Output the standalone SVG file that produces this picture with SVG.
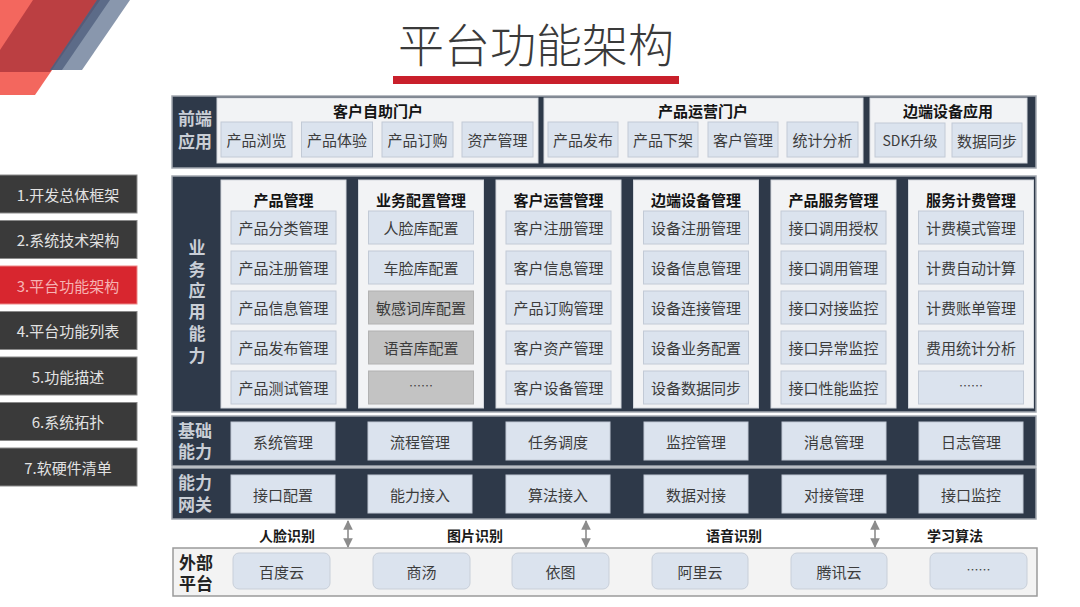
<svg xmlns="http://www.w3.org/2000/svg" width="1080" height="607" viewBox="0 0 1080 607">
<defs>
<style>
.t{font-family:"Noto Sans CJK SC","Liberation Sans",sans-serif;font-size:15px;fill:#3c3c3c;text-anchor:middle;dominant-baseline:central}
.h{font-weight:bold;fill:#141414;font-size:15px}
.lab{font-family:"Liberation Sans","Noto Sans CJK SC",sans-serif;font-weight:bold;font-size:17px;fill:#c9ced6}
.lab2{font-family:"Liberation Sans","Noto Sans CJK SC",sans-serif;font-weight:bold;font-size:17px;fill:#222}
.dark{fill:#2e3949;stroke:#a3a8b0;stroke-width:1.5}
.panel{fill:#f2f3f5;stroke:#d4d8de;stroke-width:1}
.item{fill:#dbe3ee;stroke:#c2cad6;stroke-width:1}
.gray{fill:#c3c3c3;stroke:#b2b2b2;stroke-width:1}
.ext{fill:#dbe3ee;stroke:#c8cfd9;stroke-width:1}
.mbtn{fill:#3a3a3a;stroke:#8a8a8a;stroke-width:1}
.mt{font-family:"Noto Sans CJK SC","Liberation Sans",sans-serif;font-size:15px;fill:#e2e2e2;text-anchor:middle;dominant-baseline:central}
.bl{font-weight:bold;font-size:14px;fill:#1a1a1a}
.arr{stroke:#8c8c8c;stroke-width:1.6;fill:none;marker-start:url(#ah);marker-end:url(#ah)}
</style>
<marker id="ah" viewBox="0 0 10 10" refX="9" refY="5" markerWidth="6" markerHeight="6" orient="auto-start-reverse">
<path d="M0,0 L10,5 L0,10 z" fill="#8c8c8c"/>
</marker>
</defs>
<rect width="1080" height="607" fill="#ffffff"/>
<!-- decoration -->
<g id="decor">
<polygon points="0,0 100,0 35,95 0,95" fill="#f2564c" opacity="0.9"/>
<polygon points="33,0 100,0 50,72 0,72 0,50" fill="#a8323a" opacity="0.75"/>
<polygon points="97,0 130,0 82,70 50,70" fill="#6c7d99" opacity="0.8"/>
<polygon points="97,0 110,0 62,70 50,70" fill="#3d4f70" opacity="0.6"/>
</g>
<!-- title -->
<g id="title">
<text x="536" y="42" class="t" style="font-size:46px;font-weight:300;fill:#3a3a3a">平台功能架构</text>
<rect x="393" y="76" width="286" height="8" fill="#c9202b"/>
</g>
<!-- menu -->
<g id="menu">
<g id="m1"><rect class="mbtn" x="-1" y="175" width="138" height="38"/><text class="mt" x="68" y="194">1.开发总体框架</text></g>
<g id="m2"><rect class="mbtn" x="-1" y="220.5" width="138" height="38"/><text class="mt" x="68" y="239.5">2.系统技术架构</text></g>
<g id="m3"><rect x="-1" y="266" width="138" height="38" fill="#d8262f" stroke="#e88" stroke-width="1"/><text class="mt" x="68" y="285" style="fill:#f6b3b3">3.平台功能架构</text></g>
<g id="m4"><rect class="mbtn" x="-1" y="311.5" width="138" height="38"/><text class="mt" x="68" y="330.5">4.平台功能列表</text></g>
<g id="m5"><rect class="mbtn" x="-1" y="357" width="138" height="38"/><text class="mt" x="68" y="376">5.功能描述</text></g>
<g id="m6"><rect class="mbtn" x="-1" y="402.5" width="138" height="38"/><text class="mt" x="68" y="421.5">6.系统拓扑</text></g>
<g id="m7"><rect class="mbtn" x="-1" y="448" width="138" height="38"/><text class="mt" x="68" y="467">7.软硬件清单</text></g>
</g>
<!-- row 1 -->
<g id="row-frontend">
<rect class="dark" x="172" y="96" width="864" height="72"/>
<text class="t lab"><tspan x="195" y="119">前端</tspan><tspan x="195" y="142">应用</tspan></text>
<g id="p-self">
<rect class="panel" x="217" y="98" width="321" height="65"/>
<text class="t h" x="378" y="110">客户自助门户</text>
<rect class="item" x="221" y="122" width="71" height="35"/><text class="t" x="256.5" y="139.5">产品浏览</text>
<rect class="item" x="301.5" y="122" width="71" height="35"/><text class="t" x="337" y="139.5">产品体验</text>
<rect class="item" x="382" y="122" width="71" height="35"/><text class="t" x="417.5" y="139.5">产品订购</text>
<rect class="item" x="462" y="122" width="71" height="35"/><text class="t" x="497.5" y="139.5">资产管理</text>
</g>
<g id="p-ops">
<rect class="panel" x="544" y="98" width="319" height="65"/>
<text class="t h" x="703" y="110">产品运营门户</text>
<rect class="item" x="548" y="122" width="70" height="35"/><text class="t" x="583" y="139.5">产品发布</text>
<rect class="item" x="628" y="122" width="70" height="35"/><text class="t" x="663" y="139.5">产品下架</text>
<rect class="item" x="708" y="122" width="70" height="35"/><text class="t" x="743" y="139.5">客户管理</text>
<rect class="item" x="787" y="122" width="71" height="35"/><text class="t" x="822.5" y="139.5">统计分析</text>
</g>
<g id="p-edge">
<rect class="panel" x="870" y="98" width="157" height="65"/>
<text class="t h" x="948" y="110">边端设备应用</text>
<rect class="item" x="875" y="123" width="70" height="34"/><text class="t" x="910" y="140" style="font-size:14px">SDK升级</text>
<rect class="item" x="952" y="123" width="70" height="34"/><text class="t" x="987" y="140">数据同步</text>
</g>
</g>
<!-- row 2 -->
<g id="row-business">
<rect class="dark" x="172" y="176" width="864" height="236"/>
<text class="t lab"><tspan x="197" y="248">业</tspan><tspan x="197" y="270">务</tspan><tspan x="197" y="291">应</tspan><tspan x="197" y="312">用</tspan><tspan x="197" y="334">能</tspan><tspan x="197" y="356">力</tspan></text>
<g id="c1">
<rect class="panel" x="221" y="180" width="125" height="228"/>
<text class="t h" x="283.5" y="199">产品管理</text>
<rect class="item" x="231" y="211" width="105" height="33"/><text class="t" x="283.5" y="227.5">产品分类管理</text>
<rect class="item" x="231" y="251" width="105" height="33"/><text class="t" x="283.5" y="267.5">产品注册管理</text>
<rect class="item" x="231" y="291" width="105" height="33"/><text class="t" x="283.5" y="307.5">产品信息管理</text>
<rect class="item" x="231" y="331" width="105" height="33"/><text class="t" x="283.5" y="347.5">产品发布管理</text>
<rect class="item" x="231" y="371" width="105" height="33"/><text class="t" x="283.5" y="387.5">产品测试管理</text>
</g>
<g id="c2">
<rect class="panel" x="358.5" y="180" width="125" height="228"/>
<text class="t h" x="421" y="199">业务配置管理</text>
<rect class="item" x="368.5" y="211" width="105" height="33"/><text class="t" x="421" y="227.5">人脸库配置</text>
<rect class="item" x="368.5" y="251" width="105" height="33"/><text class="t" x="421" y="267.5">车脸库配置</text>
<rect class="gray" x="368.5" y="291" width="105" height="33"/><text class="t" x="421" y="307.5">敏感词库配置</text>
<rect class="gray" x="368.5" y="331" width="105" height="33"/><text class="t" x="421" y="347.5">语音库配置</text>
<rect class="gray" x="368.5" y="371" width="105" height="33"/><text class="t" x="421" y="385.5" style="font-size:12px">……</text>
</g>
<g id="c3">
<rect class="panel" x="496" y="180" width="125" height="228"/>
<text class="t h" x="558.5" y="199">客户运营管理</text>
<rect class="item" x="506" y="211" width="105" height="33"/><text class="t" x="558.5" y="227.5">客户注册管理</text>
<rect class="item" x="506" y="251" width="105" height="33"/><text class="t" x="558.5" y="267.5">客户信息管理</text>
<rect class="item" x="506" y="291" width="105" height="33"/><text class="t" x="558.5" y="307.5">产品订购管理</text>
<rect class="item" x="506" y="331" width="105" height="33"/><text class="t" x="558.5" y="347.5">客户资产管理</text>
<rect class="item" x="506" y="371" width="105" height="33"/><text class="t" x="558.5" y="387.5">客户设备管理</text>
</g>
<g id="c4">
<rect class="panel" x="633.5" y="180" width="125" height="228"/>
<text class="t h" x="696" y="199">边端设备管理</text>
<rect class="item" x="643.5" y="211" width="105" height="33"/><text class="t" x="696" y="227.5">设备注册管理</text>
<rect class="item" x="643.5" y="251" width="105" height="33"/><text class="t" x="696" y="267.5">设备信息管理</text>
<rect class="item" x="643.5" y="291" width="105" height="33"/><text class="t" x="696" y="307.5">设备连接管理</text>
<rect class="item" x="643.5" y="331" width="105" height="33"/><text class="t" x="696" y="347.5">设备业务配置</text>
<rect class="item" x="643.5" y="371" width="105" height="33"/><text class="t" x="696" y="387.5">设备数据同步</text>
</g>
<g id="c5">
<rect class="panel" x="771" y="180" width="125" height="228"/>
<text class="t h" x="833.5" y="199">产品服务管理</text>
<rect class="item" x="781" y="211" width="105" height="33"/><text class="t" x="833.5" y="227.5">接口调用授权</text>
<rect class="item" x="781" y="251" width="105" height="33"/><text class="t" x="833.5" y="267.5">接口调用管理</text>
<rect class="item" x="781" y="291" width="105" height="33"/><text class="t" x="833.5" y="307.5">接口对接监控</text>
<rect class="item" x="781" y="331" width="105" height="33"/><text class="t" x="833.5" y="347.5">接口异常监控</text>
<rect class="item" x="781" y="371" width="105" height="33"/><text class="t" x="833.5" y="387.5">接口性能监控</text>
</g>
<g id="c6">
<rect class="panel" x="908.5" y="180" width="125" height="228"/>
<text class="t h" x="971" y="199">服务计费管理</text>
<rect class="item" x="918.5" y="211" width="105" height="33"/><text class="t" x="971" y="227.5">计费模式管理</text>
<rect class="item" x="918.5" y="251" width="105" height="33"/><text class="t" x="971" y="267.5">计费自动计算</text>
<rect class="item" x="918.5" y="291" width="105" height="33"/><text class="t" x="971" y="307.5">计费账单管理</text>
<rect class="item" x="918.5" y="331" width="105" height="33"/><text class="t" x="971" y="347.5">费用统计分析</text>
<rect class="item" x="918.5" y="371" width="105" height="33"/><text class="t" x="971" y="385.5" style="font-size:12px">……</text>
</g>
</g>
<!-- row 3 -->
<g id="row-base">
<rect class="dark" x="172" y="416" width="864" height="50"/>
<text class="t lab"><tspan x="195" y="431">基础</tspan><tspan x="195" y="452">能力</tspan></text>
<g id="b1"><rect class="item" x="231" y="422" width="104" height="38"/><text class="t" x="283" y="441">系统管理</text></g>
<g id="b2"><rect class="item" x="368" y="422" width="104" height="38"/><text class="t" x="420" y="441">流程管理</text></g>
<g id="b3"><rect class="item" x="506" y="422" width="104" height="38"/><text class="t" x="558" y="441">任务调度</text></g>
<g id="b4"><rect class="item" x="644" y="422" width="104" height="38"/><text class="t" x="696" y="441">监控管理</text></g>
<g id="b5"><rect class="item" x="782" y="422" width="104" height="38"/><text class="t" x="834" y="441">消息管理</text></g>
<g id="b6"><rect class="item" x="919" y="422" width="104" height="38"/><text class="t" x="971" y="441">日志管理</text></g>
</g>
<!-- row 4 -->
<g id="row-gateway">
<rect class="dark" x="172" y="468" width="864" height="51"/>
<text class="t lab"><tspan x="195" y="483">能力</tspan><tspan x="195" y="505">网关</tspan></text>
<g id="g1"><rect class="item" x="231" y="475" width="104" height="38"/><text class="t" x="283" y="494">接口配置</text></g>
<g id="g2"><rect class="item" x="368" y="475" width="104" height="38"/><text class="t" x="420" y="494">能力接入</text></g>
<g id="g3"><rect class="item" x="506" y="475" width="104" height="38"/><text class="t" x="558" y="494">算法接入</text></g>
<g id="g4"><rect class="item" x="644" y="475" width="104" height="38"/><text class="t" x="696" y="494">数据对接</text></g>
<g id="g5"><rect class="item" x="782" y="475" width="104" height="38"/><text class="t" x="834" y="494">对接管理</text></g>
<g id="g6"><rect class="item" x="919" y="475" width="104" height="38"/><text class="t" x="971" y="494">接口监控</text></g>
</g>
<!-- connector labels -->
<g id="conn-labels">
<text class="t bl" x="287" y="535">人脸识别</text>
<text class="t bl" x="475" y="535">图片识别</text>
<text class="t bl" x="734" y="535">语音识别</text>
<text class="t bl" x="955" y="535">学习算法</text>
</g>
<!-- connectors -->
<g id="connectors">
<line class="arr" x1="348" y1="521" x2="348" y2="547"/>
<line class="arr" x1="586" y1="521" x2="586" y2="547"/>
<line class="arr" x1="875" y1="521" x2="875" y2="547"/>
</g>
<!-- row 5 -->
<g id="row-external">
<rect x="173" y="548" width="864" height="48" fill="#f3f3f3" stroke="#9a9a9a" stroke-width="1.5"/>
<text class="t lab2"><tspan x="196" y="563">外部</tspan><tspan x="196" y="584">平台</tspan></text>
<g id="e1"><rect class="ext" x="233" y="553" width="97" height="36" rx="6"/><text class="t" x="281.5" y="571">百度云</text></g>
<g id="e2"><rect class="ext" x="373" y="553" width="97" height="36" rx="6"/><text class="t" x="421.5" y="571">商汤</text></g>
<g id="e3"><rect class="ext" x="512" y="553" width="97" height="36" rx="6"/><text class="t" x="560.5" y="571">依图</text></g>
<g id="e4"><rect class="ext" x="652" y="553" width="96" height="36" rx="6"/><text class="t" x="700" y="571">阿里云</text></g>
<g id="e5"><rect class="ext" x="791" y="553" width="96" height="36" rx="6"/><text class="t" x="839" y="571">腾讯云</text></g>
<g id="e6"><rect class="ext" x="930" y="553" width="97" height="36" rx="6"/><text class="t" x="978.5" y="569" style="font-size:12px">……</text></g>
</g>
</svg>
